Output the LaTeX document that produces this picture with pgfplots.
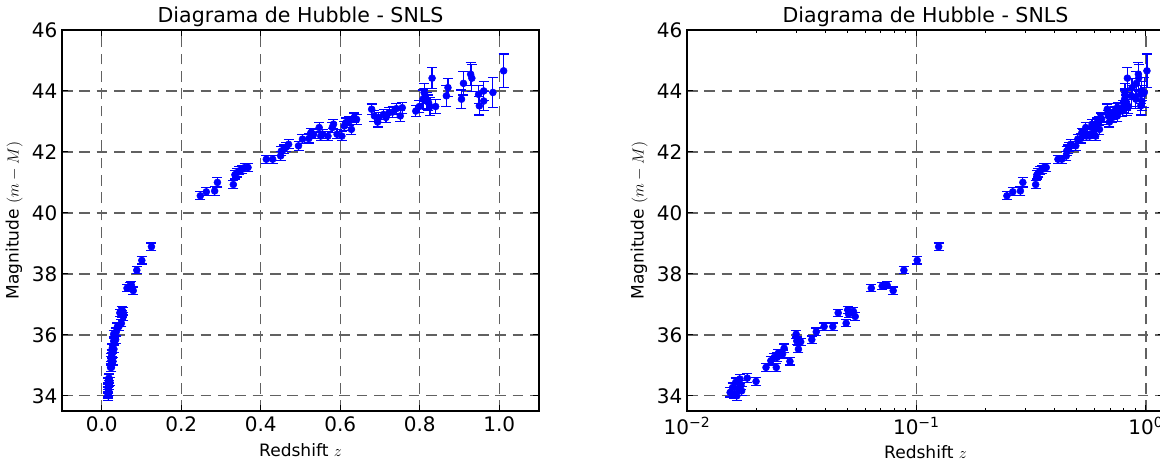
\documentclass[border=0pt]{standalone}
\usepackage{pgfplots}
\pgfplotsset{compat=1.18}
\usepackage{pgfplotstable}
\usepackage{fontspec}
\setmainfont{DejaVu Sans}

\pgfplotstableread{
z mu e
0.01542 34.11 0.15
0.0158 34.27 0.15
0.0161 34.05 0.15
0.0163 34.44 0.14
0.0165 34.00 0.15
0.0167 34.22 0.15
0.0170 34.55 0.15
0.0172 34.35 0.14
0.0173 34.16 0.15
0.0183 34.58 0.14
0.0200 34.47 0.14
0.0221 34.93 0.13
0.0232 35.15 0.14
0.0240 35.26 0.13
0.0245 34.93 0.13
0.0247 35.26 0.14
0.0250 35.40 0.13
0.0261 35.37 0.13
0.0265 35.56 0.14
0.0281 35.13 0.12
0.0299 36.02 0.13
0.0301 35.80 0.13
0.0306 35.53 0.12
0.0313 35.77 0.12
0.0350 35.84 0.12
0.0366 36.10 0.12
0.0396 36.27 0.12
0.0432 36.27 0.12
0.0456 36.72 0.12
0.0494 36.38 0.12
0.0502 36.82 0.12
0.0506 36.68 0.12
0.0531 36.77 0.12
0.0541 36.60 0.12
0.0636 37.53 0.12
0.0709 37.60 0.12
0.0745 37.63 0.12
0.0792 37.45 0.12
0.0882 38.12 0.12
0.1008 38.44 0.12
0.1250 38.89 0.12
}\nearby

\pgfplotstableread{
z mu e
0.248 40.56 0.13
0.263 40.69 0.13
0.284 40.72 0.14
0.291 41.00 0.15
0.331 40.93 0.13
0.335 41.25 0.14
0.340 41.32 0.14
0.346 41.38 0.13
0.353 41.43 0.13
0.360 41.49 0.13
0.368 41.49 0.13
0.414 41.76 0.13
0.430 41.76 0.13
0.450 41.87 0.14
0.452 42.03 0.14
0.459 42.09 0.14
0.464 42.16 0.14
0.470 42.25 0.15
0.495 42.20 0.15
0.505 42.42 0.15
0.521 42.44 0.15
0.526 42.63 0.15
0.533 42.58 0.15
0.547 42.80 0.16
0.551 42.52 0.15
0.556 42.58 0.15
0.569 42.52 0.15
0.580 42.80 0.16
0.583 42.91 0.15
0.592 42.58 0.15
0.604 42.52 0.15
0.610 42.85 0.16
0.614 42.96 0.15
0.623 43.02 0.15
0.628 42.74 0.16
0.635 43.13 0.15
0.641 43.07 0.16
0.679 43.40 0.17
0.686 43.18 0.17
0.694 42.98 0.16
0.697 43.13 0.17
0.709 43.23 0.17
0.715 43.13 0.17
0.723 43.29 0.17
0.732 43.31 0.17
0.741 43.42 0.18
0.751 43.18 0.17
0.756 43.45 0.18
0.790 43.34 0.18
0.799 43.49 0.19
0.808 43.73 0.30
0.811 43.95 0.30
0.814 43.84 0.25
0.817 43.67 0.28
0.822 43.62 0.25
0.826 43.49 0.30
0.831 44.42 0.35
0.840 43.49 0.22
0.867 43.84 0.35
0.871 44.11 0.30
0.905 43.73 0.30
0.910 44.25 0.38
0.928 44.55 0.38
0.931 44.42 0.45
0.948 43.89 0.30
0.950 43.51 0.30
0.961 43.67 0.30
0.961 44.00 0.30
0.984 43.95 0.50
1.011 44.66 0.55
}\distant

\pgfplotsset{
  hub/.style={
    scale only axis, width=357.75pt, height=285.75pt, anchor=south west,
    ymin=33.5, ymax=46, ytick={34,36,...,46},
    tick align=inside, xtick pos=both, ytick pos=both,
    major tick length=4.2pt, minor tick length=2.1pt,
    every tick/.style={black, line width=0.8pt},
    axis line style={line width=1.1pt},
    grid=major,
    major grid style={dash pattern=on 8pt off 5pt, black!62, line width=1.1pt},
    /pgf/number format/assume math mode=true,
    tick label style={font=\fontsize{15}{17}\selectfont},
    xticklabel style={yshift=-1pt},
    label style={font=\fontsize{12.8}{15}\selectfont},
    xlabel style={yshift=-1.5pt},
    ylabel style={yshift=0pt},
    title style={font=\fontsize{15.4}{18}\selectfont, yshift=-7pt},
    title={Diagrama de Hubble - SNLS},
    xlabel={Redshift $z$},
    ylabel={Magnitude $(m-M)$},
  },
  pts/.style={only marks, mark=*, mark size=2.6pt, blue,
    mark options={draw=blue, fill=blue},
    error bars/.cd, y dir=both, y explicit,
    error bar style={line width=0.9pt, blue},
    error mark options={line width=0.9pt, blue, mark size=3.75pt, rotate=90}},
}

\begin{document}
\begin{tikzpicture}
\begin{axis}[hub, at={(46.5pt,40.5pt)},
  xmin=-0.1, xmax=1.1, xtick={0,0.2,...,1.0},
  xticklabel style={/pgf/number format/.cd, fixed, fixed zerofill, precision=1},
]
\addplot+[pts] table[x=z, y=mu, y error=e] {\nearby};
\addplot+[pts] table[x=z, y=mu, y error=e] {\distant};
\end{axis}
\begin{axis}[hub, at={(515.25pt,40.5pt)}, xmode=log,
  xmin=0.01, xmax=1.2, xtick={0.01,0.1,1},
  xticklabels={10\textsuperscript{−2},10\textsuperscript{−1},10\textsuperscript{0}},
  minor xtick={0.02,0.03,0.04,0.05,0.06,0.07,0.08,0.09,0.2,0.3,0.4,0.5,0.6,0.7,0.8,0.9},
]
\addplot+[pts] table[x=z, y=mu, y error=e] {\nearby};
\addplot+[pts] table[x=z, y=mu, y error=e] {\distant};
\end{axis}
\pgfresetboundingbox
\path[use as bounding box] (0,0) rectangle (870pt,348.75pt);
\end{tikzpicture}
\end{document}
